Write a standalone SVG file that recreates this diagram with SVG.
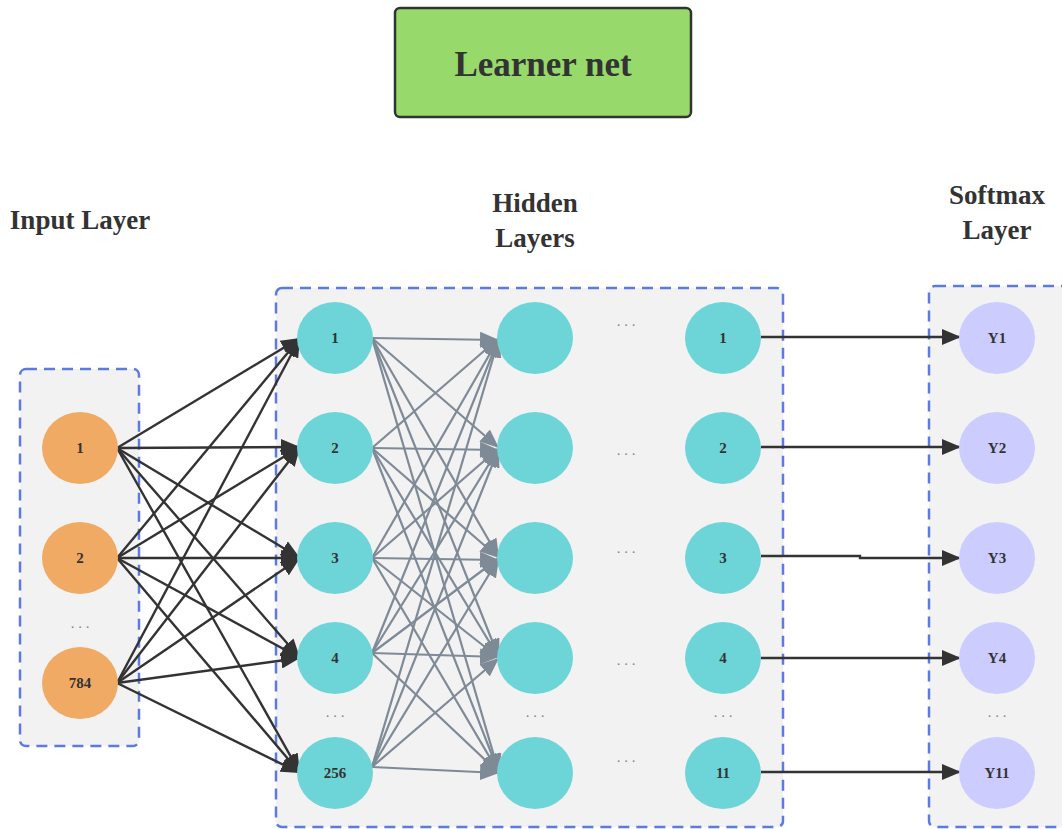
<svg xmlns="http://www.w3.org/2000/svg" width="1062" height="829" viewBox="0 0 1062 829">
<defs>
<style>
.t{font-family:"Liberation Serif","Times New Roman",serif;font-weight:bold;fill:#333333;text-anchor:middle}
.h{font-size:27px}
.n{font-size:15px;dominant-baseline:central}
.d{font-family:"Liberation Serif",serif;font-size:15px;fill:#888888;text-anchor:middle}
.box{fill:#F2F2F2;stroke:#5B7BE0;stroke-width:2.5;stroke-dasharray:11 7}
.in{fill:#F0AA64}
.hd{fill:#6DD5D7}
.sm{fill:#CCCCFF}
.k{stroke:#333333;stroke-width:2.4;fill:none;marker-end:url(#ak)}
.g{stroke:#7F8A97;stroke-width:2.2;fill:none;marker-end:url(#ag)}
</style>
<marker id="ak" markerUnits="userSpaceOnUse" markerWidth="20" markerHeight="16" refX="19" refY="8" orient="auto"><path d="M0,0 L19,8 L0,16 Z" fill="#333333"/></marker>
<marker id="ag" markerUnits="userSpaceOnUse" markerWidth="20" markerHeight="16" refX="19" refY="8" orient="auto"><path d="M0,0 L19,8 L0,16 Z" fill="#7F8A97"/></marker>
</defs>
<rect width="1062" height="829" fill="#ffffff"/>

<g id="title">
<rect x="395" y="8" width="296" height="109" rx="5" fill="#97D96A" stroke="#333333" stroke-width="2.5"/>
<text class="t" x="543" y="76" font-size="35">Learner net</text>
</g>

<g id="labels">
<text class="t h" x="80" y="229">Input Layer</text>
<text class="t h" x="535" y="212">Hidden</text>
<text class="t h" x="535" y="247">Layers</text>
<text class="t h" x="997" y="204">Softmax</text>
<text class="t h" x="997" y="239">Layer</text>
</g>

<g id="containers">
<rect class="box" x="20" y="369" width="119" height="377" rx="6"/>
<rect class="box" x="276" y="288" width="507" height="539" rx="6"/>
<rect class="box" x="929" y="286" width="150" height="541" rx="6"/>
</g>

<g id="connectors">
<path class="k" d="M117 448 L300 338"/><path class="k" d="M117 448 L300 447"/><path class="k" d="M117 448 L300 558"/><path class="k" d="M117 448 L300 658"/><path class="k" d="M117 448 L300 773"/>
<path class="k" d="M117 558 L300 338"/><path class="k" d="M117 558 L300 447"/><path class="k" d="M117 558 L300 558"/><path class="k" d="M117 558 L300 658"/><path class="k" d="M117 558 L300 773"/>
<path class="k" d="M117 683 L300 338"/><path class="k" d="M117 683 L300 447"/><path class="k" d="M117 683 L300 558"/><path class="k" d="M117 683 L300 658"/><path class="k" d="M117 683 L300 773"/>

<path class="g" d="M372 338 L499 340"/><path class="g" d="M372 338 L499 448"/><path class="g" d="M372 338 L499 558"/><path class="g" d="M372 338 L499 658"/><path class="g" d="M372 338 L499 773"/>
<path class="g" d="M372 448 L499 338"/><path class="g" d="M372 448 L499 450"/><path class="g" d="M372 448 L499 558"/><path class="g" d="M372 448 L499 658"/><path class="g" d="M372 448 L499 773"/>
<path class="g" d="M372 558 L499 338"/><path class="g" d="M372 558 L499 448"/><path class="g" d="M372 558 L499 560"/><path class="g" d="M372 558 L499 658"/><path class="g" d="M372 558 L499 773"/>
<path class="g" d="M372 653 L499 338"/><path class="g" d="M372 653 L499 448"/><path class="g" d="M372 653 L499 558"/><path class="g" d="M372 653 L499 657"/><path class="g" d="M372 653 L499 773"/>
<path class="g" d="M372 767 L499 338"/><path class="g" d="M372 767 L499 448"/><path class="g" d="M372 767 L499 558"/><path class="g" d="M372 767 L499 658"/><path class="g" d="M372 767 L499 773"/>

<path class="k" d="M761 337 L961 337"/>
<path class="k" d="M761 447 L961 447"/>
<path class="k" d="M761 556 L860 556 L860 558 L961 558"/>
<path class="k" d="M761 658 L961 658"/>
<path class="k" d="M761 772 L961 772"/>
</g>

<g id="input-nodes">
<g id="in1"><ellipse class="in" cx="80" cy="448" rx="38" ry="36"/><text class="t n" x="80" y="448">1</text></g>
<g id="in2"><ellipse class="in" cx="80" cy="558" rx="38" ry="36"/><text class="t n" x="80" y="558">2</text></g>
<text class="d" x="80" y="628">. . .</text>
<g id="in784"><ellipse class="in" cx="80" cy="683" rx="38" ry="36"/><text class="t n" x="80" y="683">784</text></g>
</g>

<g id="hidden1">
<g id="h1-1"><ellipse class="hd" cx="335" cy="338" rx="38" ry="36"/><text class="t n" x="335" y="338">1</text></g>
<g id="h1-2"><ellipse class="hd" cx="335" cy="448" rx="38" ry="36"/><text class="t n" x="335" y="448">2</text></g>
<g id="h1-3"><ellipse class="hd" cx="335" cy="558" rx="38" ry="36"/><text class="t n" x="335" y="558">3</text></g>
<g id="h1-4"><ellipse class="hd" cx="335" cy="658" rx="38" ry="36"/><text class="t n" x="335" y="658">4</text></g>
<text class="d" x="335" y="717">. . .</text>
<g id="h1-256"><ellipse class="hd" cx="335" cy="773" rx="38" ry="36"/><text class="t n" x="335" y="773">256</text></g>
</g>

<g id="hidden2">
<ellipse class="hd" cx="535" cy="338" rx="38" ry="36"/>
<ellipse class="hd" cx="535" cy="448" rx="38" ry="36"/>
<ellipse class="hd" cx="535" cy="558" rx="38" ry="36"/>
<ellipse class="hd" cx="535" cy="658" rx="38" ry="36"/>
<text class="d" x="535" y="717">. . .</text>
<ellipse class="hd" cx="535" cy="773" rx="38" ry="36"/>
</g>

<g id="middle-dots">
<text class="d" x="626" y="326">. . .</text>
<text class="d" x="626" y="455">. . .</text>
<text class="d" x="626" y="553">. . .</text>
<text class="d" x="626" y="665">. . .</text>
<text class="d" x="626" y="762">. . .</text>
</g>

<g id="hidden3">
<g id="h3-1"><ellipse class="hd" cx="723" cy="338" rx="38" ry="36"/><text class="t n" x="723" y="338">1</text></g>
<g id="h3-2"><ellipse class="hd" cx="723" cy="448" rx="38" ry="36"/><text class="t n" x="723" y="448">2</text></g>
<g id="h3-3"><ellipse class="hd" cx="723" cy="558" rx="38" ry="36"/><text class="t n" x="723" y="558">3</text></g>
<g id="h3-4"><ellipse class="hd" cx="723" cy="658" rx="38" ry="36"/><text class="t n" x="723" y="658">4</text></g>
<text class="d" x="723" y="717">. . .</text>
<g id="h3-11"><ellipse class="hd" cx="723" cy="773" rx="38" ry="36"/><text class="t n" x="723" y="773">11</text></g>
</g>

<g id="softmax">
<g id="y1"><ellipse class="sm" cx="997" cy="338" rx="38" ry="36"/><text class="t n" x="997" y="338">Y1</text></g>
<g id="y2"><ellipse class="sm" cx="997" cy="448" rx="38" ry="36"/><text class="t n" x="997" y="448">Y2</text></g>
<g id="y3"><ellipse class="sm" cx="997" cy="558" rx="38" ry="36"/><text class="t n" x="997" y="558">Y3</text></g>
<g id="y4"><ellipse class="sm" cx="997" cy="658" rx="38" ry="36"/><text class="t n" x="997" y="658">Y4</text></g>
<text class="d" x="997" y="717">. . .</text>
<g id="y11"><ellipse class="sm" cx="997" cy="773" rx="38" ry="36"/><text class="t n" x="997" y="773">Y11</text></g>
</g>
</svg>
